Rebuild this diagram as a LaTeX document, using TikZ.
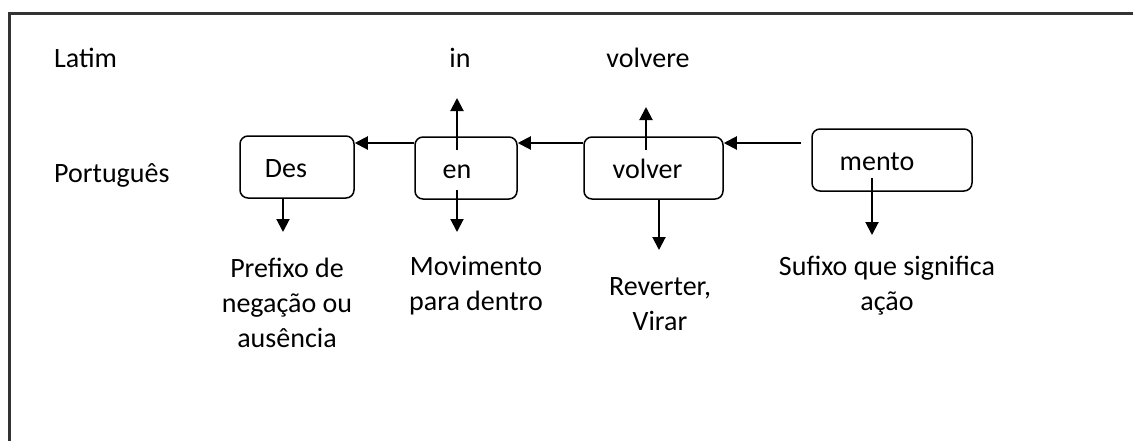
\documentclass[tikz,border=0pt]{standalone}
\usepackage{fontspec}
\setmainfont{Carlito}
\usetikzlibrary{arrows.meta}
\begin{document}
\begin{tikzpicture}[x=1pt,y=-1pt,
  every node/.style={font=\fontsize{28}{35}\selectfont, inner sep=0pt},
  box/.style={draw, line width=1.5pt, rounded corners=8pt, minimum height=62pt, text height=26pt, text depth=6pt},
  arr/.style={line width=2pt, -{Triangle[length=13pt,width=13pt]}},
  lbl/.style={align=center},
  frame/.style={line width=3pt, draw=black!80}]
\useasboundingbox (0,0) rectangle (1133,440);
\draw[frame] (9.5,441) -- (9.5,13) -- (1134,13);
% side labels
\node[anchor=west] (latim) at (54,58) {Latim};
\node[anchor=west] (port) at (54,175) {Português};
\node (in) at (460,58) {in};
\node (volvere) at (648,58) {volvere};
% boxes
\node[box, minimum width=114pt] (des) at (297,167) {Des\hspace*{22pt}};
\node[box, minimum width=102pt] (en) at (466,168) {en\hspace*{18pt}};
\node[box, minimum width=139pt] (volver) at (653.5,168) {volver\hspace*{12pt}};
\node[box, minimum width=160pt] (mento) at (892,160) {mento\hspace*{30pt}};
% bottom labels
\node[lbl] (prefixo) at (287,303) {Prefixo de\\negação ou\\ausência};
\node[lbl] (movimento) at (476,285.5) {Movimento\\para dentro};
\node[lbl] (reverter) at (660,304.5) {Reverter,\\Virar};
\node[lbl] (sufixo) at (887,285.5) {Sufixo que significa\\ação};
% free ends
\coordinate (enup) at (457,98);
\coordinate (volup) at (646,107);
\coordinate (desdn) at (283,232);
\coordinate (endn) at (457,232);
\coordinate (voldn) at (659,250);
\coordinate (mentodn) at (872,235);
% horizontal chain
\draw[arr] ([xshift=-10pt,yshift=17pt]mento.west) -- ([yshift=25pt]volver.east);
\draw[arr] ([yshift=25pt]volver.west) -- ([yshift=25pt]en.east);
\draw[arr] ([yshift=25pt]en.west) -- ([yshift=24pt]des.east);
% vertical arrows
\draw[arr] ([xshift=-9pt,yshift=18pt]en.center) -- (enup);
\draw[arr] ([xshift=-7.5pt,yshift=18pt]volver.center) -- (volup);
\draw[arr] ([xshift=-9pt,yshift=-22pt]en.center) -- (endn);
\draw[arr] ([xshift=5.5pt]volver.south) -- (voldn);
\draw[arr] ([xshift=-14pt]des.south) -- (desdn);
\draw[arr] ([xshift=-20pt,yshift=-18pt]mento.center) -- (mentodn);
\end{tikzpicture}
\end{document}
